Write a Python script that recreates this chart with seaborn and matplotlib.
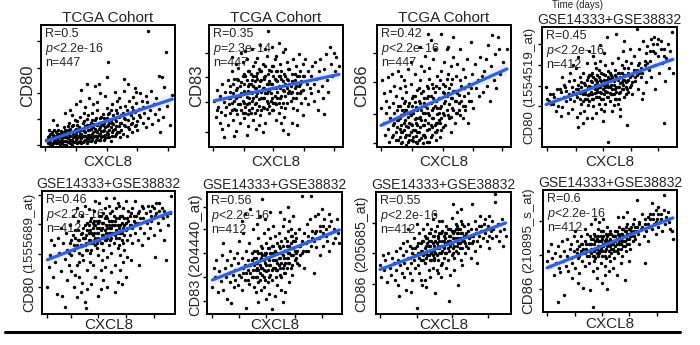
import matplotlib
matplotlib.use("Agg")
import matplotlib.pyplot as plt
import pandas as pd
import seaborn as sns
from matplotlib.lines import Line2D

# ---------------- data (0-100 = axis box) ----------------
titles = ["TCGA Cohort", "TCGA Cohort", "TCGA Cohort", "GSE14333+GSE38832",
          "GSE14333+GSE38832", "GSE14333+GSE38832", "GSE14333+GSE38832", "GSE14333+GSE38832"]
genes = ["CD80", "CD83", "CD86", "CD80", "CD80", "CD83", "CD86", "CD86"]
probes = ["", "", "", "(1554519_at)", "(1555689_at)", "(204440_at)", "(205685_at)", "(210895_s_at)"]
r_vals = ["0.5", "0.35", "0.42", "0.45", "0.46", "0.56", "0.55", "0.6"]
p_vals = ["<2.2e-16", "=2.3e-14", "<2.2e-16", "<2.2e-16", "<2.2e-16", "<2.2e-16", "<2.2e-16", "<2.2e-16"]
n_vals = [447, 447, 447, 412, 412, 412, 412, 412]
x_label = "CXCL8"

p1 = [(4,6),(5,3),(6,9),(7,4),(8,12),(8,2),(9,7),(10,5),(10,14),(11,3),(11,9),(12,6),(12,18),(13,4),(13,11),(14,8),(14,2),(15,13),(15,5),(6,14),(9,22),
      (16,7),(16,3),(17,10),(17,16),(18,5),(18,12),(19,2),(19,8),(20,14),(20,4),(21,10),(21,20),(22,6),(22,3),(23,12),(23,17),(24,8),(24,4),(25,14),(25,22),(26,6),(26,10),(27,3),(27,18),(28,9),(28,13),(29,5),(29,25),(30,11),(30,7),(18,28),(22,30),(26,35),(29,38),(23,26),
      (31,4),(31,15),(32,9),(32,21),(33,6),(33,12),(34,18),(34,3),(35,10),(35,26),(36,7),(36,14),(37,20),(37,5),(38,11),(38,28),(39,8),(39,16),(40,4),(40,22),(41,13),(41,9),(42,18),(42,30),(43,6),(43,15),(44,11),(44,24),(45,8),(45,19),(33,33),(36,40),(39,35),(42,37),(44,44),(30,47),(34,52),(40,50),(43,52),(32,28),
      (46,13),(46,27),(47,6),(47,20),(48,16),(48,10),(49,24),(49,32),(50,8),(50,18),(51,14),(51,28),(52,22),(52,5),(53,12),(53,35),(54,19),(54,26),(55,9),(55,15),(56,30),(56,21),(57,12),(57,38),(58,17),(58,25),(59,8),(59,33),(60,20),(60,14),(49,57),(50,70),(48,42),(55,45),(58,40),
      (61,28),(61,11),(62,24),(62,56),(63,17),(63,34),(64,30),(64,9),(65,22),(65,52),(66,15),(66,38),(67,26),(67,19),(68,33),(68,12),(69,41),(69,24),(70,29),(70,17),(71,36),(71,45),(72,21),(72,14),(73,31),(74,44),(74,25),(75,38),(62,46),(70,48),
      (76,20),(76,33),(77,28),(78,16),(78,42),(79,37),(80,95),(80,24),(81,30),(82,46),(83,19),(84,35),(85,27),(86,40),(87,22),(88,58),(88,31),(90,57),(91,25),(92,49),(93,78),(94,34),(96,18),(98,43),(89,12)]
p1_core = [(5,8),(6,5),(7,11),(7,2),(8,7),(9,3),(9,10),(10,8),(11,12),(11,6),(12,3),(12,10),(13,7),(13,14),(14,5),(14,11),(15,3),(15,9),(16,12),(16,5),(17,8),(17,2),(18,14),(18,9),(19,5),(19,11),(20,7),(20,17),(21,4),(21,13),(22,9),(22,15),(23,6),(23,2),(24,11),(24,18),(25,8),(25,4),(26,15),(26,12),(27,7),(27,21),(28,4),(28,16),(29,11),(29,8),(30,14),(30,3),(31,9),(31,20),(32,5),(32,13),(33,17),(33,9),(34,7),(34,23),(35,14),(35,5),(36,18),(36,10),(37,8),(37,15),(38,22),(38,6),(39,12),(39,19),(40,9),(40,15),(41,6),(41,24),(42,12),(42,8),(43,20),(43,10),(44,16),(44,6),(45,13),(45,25),(46,9),(46,18),(47,14),(47,24),(48,7),(48,21),(49,12),(49,17),(50,27),(50,11),(51,20),(51,8),(52,16),(52,30),(53,9),(53,20),(54,14),(55,23),(56,11),(56,17),(57,28),(58,12),(59,20),(60,26),(62,18),(63,23),(65,16),(66,28),(68,20),(69,30),(71,18),(73,26)]

p2 = [(4,38),(5,25),(6,47),(7,33),(8,20),(8,42),(9,29),(10,52),(10,15),(11,37),(12,26),(12,45),(13,33),(14,18),(14,55),(15,40),(6,30),(11,8),
      (16,28),(16,50),(17,36),(17,62),(18,22),(18,44),(19,31),(19,56),(20,40),(20,13),(21,48),(21,27),(22,35),(22,65),(23,42),(23,20),(24,53),(24,30),(25,38),(25,70),(26,46),(26,24),(27,58),(27,33),(28,41),(28,10),(29,50),(29,27),(30,62),(30,36),(17,74),(20,68),(24,77),(27,79),(29,17),(19,9),(22,55),(26,60),(28,72),(16,40),
      (31,45),(31,28),(32,55),(32,38),(33,66),(33,22),(34,48),(34,35),(35,58),(35,42),(36,30),(36,73),(37,50),(37,39),(38,62),(38,26),(39,45),(39,55),(40,33),(40,68),(41,48),(41,40),(42,58),(42,20),(43,44),(43,75),(44,52),(44,36),(45,63),(45,28),(32,80),(35,15),(38,84),(40,12),(42,80),(44,95),(33,50),(36,61),(39,40),(41,57),(43,31),(45,47),(37,18),(34,70),(30,52),
      (46,52),(46,38),(47,66),(47,30),(48,48),(48,58),(49,42),(49,72),(50,35),(50,55),(51,62),(51,45),(52,28),(52,50),(53,68),(53,40),(54,56),(54,33),(55,47),(55,78),(56,60),(56,25),(57,52),(57,42),(58,70),(58,36),(59,55),(59,11),(60,46),(60,64),(47,82),(50,22),(52,85),(55,14),(57,80),(54,20),(48,36),(53,58),(58,48),(50,75),
      (61,50),(61,38),(62,60),(62,45),(63,72),(63,32),(64,55),(64,48),(65,40),(65,66),(66,58),(66,30),(67,50),(67,76),(68,44),(68,62),(69,36),(69,54),(70,68),(70,47),(71,58),(72,40),(72,72),(73,52),(74,62),(74,35),(75,48),(62,20),(66,18),(70,26),
      (76,58),(76,44),(77,66),(78,52),(78,38),(79,70),(80,56),(81,46),(82,62),(83,72),(84,50),(85,40),(86,64),(87,76),(88,55),(89,45),(90,82),(91,68),(92,58),(93,77),(94,62),(95,74),(97,66),(86,27),(81,30)]
p2_core = [(15,35),(16,45),(17,30),(18,52),(19,38),(20,47),(20,30),(21,56),(22,42),(23,35),(23,50),(24,44),(25,28),(25,58),(26,36),(26,52),(27,44),(27,28),(28,55),(28,35),(29,46),(29,62),(30,40),(30,30),(31,52),(31,60),(32,44),(32,32),(33,58),(33,40),(34,28),(34,54),(35,48),(35,36),(36,56),(36,44),(37,34),(37,64),(38,46),(38,54),(39,30),(39,62),(40,48),(40,40),(41,56),(41,32),(42,44),(42,66),(43,52),(43,38),(44,60),(44,46),(45,34),(45,54),(46,44),(46,62),(47,40),(47,52),(48,30),(48,66),(49,56),(49,36),(50,48),(50,62),(51,40),(51,54),(52,58),(52,36),(53,48),(54,42),(54,62),(55,54),(55,36),(56,46),(57,58),(57,32),(58,56),(59,44),(59,64),(60,52),(61,44),(62,54),(63,40),(64,60),(65,50),(66,44),(67,58),(68,52),(69,46),(70,58)]

p3 = [(3,32),(4,55),(5,20),(5,44),(6,10),(7,38),(7,28),(8,57),(8,15),(9,33),(9,4),(10,46),(10,24),(11,60),(11,8),(12,36),(12,18),(13,50),(13,28),(14,12),(14,42),(15,22),
      (16,6),(16,34),(17,15),(17,48),(18,26),(18,3),(19,40),(19,12),(20,20),(20,55),(21,8),(21,30),(22,17),(22,45),(23,4),(23,25),(24,36),(24,10),(25,52),(25,19),(26,28),(26,6),(27,42),(27,14),(28,23),(28,60),(29,33),(29,9),(30,18),(30,47),(16,62),(18,58),(20,36),(22,2),(23,64),(24,28),(25,70),(26,40),(27,5),(28,37),(29,24),(30,3),(17,24),(21,50),(19,30),
      (31,12),(31,38),(32,25),(32,55),(33,7),(33,30),(34,46),(34,18),(35,62),(35,10),(36,34),(36,22),(37,50),(37,4),(38,28),(38,42),(39,15),(39,65),(40,36),(40,8),(41,52),(41,24),(42,32),(42,72),(43,18),(43,45),(44,38),(44,12),(45,58),(45,27),(32,82),(36,75),(38,93),(40,88),(43,80),(44,6),(31,48),(34,3),(37,40),(39,56),(41,16),(42,48),(45,20),(33,66),(35,36),
      (46,40),(46,22),(47,55),(47,32),(48,14),(48,62),(49,45),(49,28),(50,70),(50,36),(51,18),(51,50),(52,42),(52,80),(53,26),(53,60),(54,35),(54,48),(55,66),(55,12),(56,40),(56,56),(57,30),(57,74),(58,46),(58,20),(59,58),(59,38),(60,68),(60,28),(48,93),(53,82),(57,90),(47,8),(55,25),
      (61,43),(61,30),(62,80),(62,55),(63,38),(64,64),(64,24),(65,48),(66,57),(66,34),(67,72),(68,44),(68,20),(69,52),(70,86),(70,38),(71,60),(72,32),(73,68),(74,48),(75,55),(76,42),(77,74),(78,58),(79,45),
      (80,62),(81,72),(82,50),(83,84),(84,38),(85,66),(86,92),(87,55),(88,76),(89,48),(90,90),(91,80),(92,60),(94,70),(97,80)]
p3_core = [(12,10),(13,20),(14,6),(15,16),(15,30),(16,22),(17,8),(17,34),(18,18),(18,12),(19,26),(19,4),(20,14),(20,28),(21,22),(21,38),(22,10),(22,30),(23,16),(23,34),(24,20),(24,6),(25,26),(25,12),(26,34),(26,18),(27,8),(27,28),(28,14),(28,42),(29,20),(29,4),(30,30),(30,12),(31,24),(31,6),(32,16),(32,36),(33,22),(33,44),(34,10),(34,28),(35,18),(35,40),(36,28),(36,8),(37,14),(37,32),(38,20),(38,48),(39,26),(39,4),(40,18),(40,42),(41,30),(41,10),(42,24),(42,40),(43,12),(43,34),(44,20),(44,50),(45,32),(45,14),(46,28),(46,48),(47,20),(47,40),(48,34),(48,24),(49,52),(49,16),(50,44),(50,26),(51,38),(52,30),(52,56),(53,44),(54,24),(55,40),(55,52),(56,32),(57,46),(58,38),(59,28),(60,44),(61,36),(62,26),(63,50),(64,34),(65,42),(66,30),(68,50),(69,38),(70,48)]

p4 = [(3,50),(4,40),(5,38),(6,44),(7,36),(8,44),(9,42),(10,30),(11,48),(12,40),(13,48),(14,26),(14,46),(15,33),(16,52),(16,42),(17,50),(18,38),(18,47),(19,28),(20,55),(20,44),(12,34),(8,36),(15,58),
      (21,40),(21,62),(22,50),(22,32),(23,46),(24,56),(24,38),(25,48),(25,66),(26,42),(26,25),(27,52),(27,17),(28,45),(28,58),(29,36),(29,50),(30,44),(30,62),(31,30),(31,53),(32,47),(32,40),(33,56),(33,70),(34,43),(34,35),(35,51),(35,60),(23,68),(27,75),(30,20),(33,24),(35,80),(28,28),
      (36,46),(36,55),(37,40),(37,62),(38,50),(38,34),(39,57),(39,45),(40,52),(40,66),(41,42),(41,48),(42,58),(42,36),(43,50),(43,72),(44,45),(44,55),(45,40),(45,61),(46,52),(46,30),(47,47),(47,68),(48,56),(48,42),(49,50),(49,63),(50,45),(50,38),(37,24),(40,28),(43,85),(45,22),(48,92),(49,4),(38,76),(42,64),(44,32),(46,78),(47,36),(50,57),(39,70),(41,54),(36,44),
      (51,52),(51,60),(52,44),(52,70),(53,55),(53,35),(54,48),(54,64),(55,58),(55,40),(56,50),(56,74),(57,45),(57,62),(58,53),(58,32),(59,68),(59,48),(60,56),(60,80),(61,42),(61,60),(62,50),(62,72),(63,18),(63,55),(64,66),(64,46),(65,58),(65,82),(52,30),(55,94),(58,26),(61,88),(56,36),
      (66,52),(66,70),(67,60),(67,44),(68,76),(69,55),(70,64),(70,98),(71,48),(72,70),(72,82),(73,58),(74,62),(74,40),(75,88),(76,68),(77,54),(77,78),(78,84),(79,64),(80,72),(75,45),
      (81,90),(81,58),(82,80),(83,92),(84,68),(84,48),(85,86),(86,76),(87,62),(88,88),(89,70),(90,20),(90,82),(91,55),(92,74),(93,86),(94,66),(95,80),(96,96),(97,62)]
p4_core = [(25,44),(27,48),(28,40),(29,54),(30,38),(31,46),(32,52),(32,44),(33,40),(34,50),(34,58),(35,44),(35,38),(36,50),(36,60),(37,44),(37,54),(38,40),(38,58),(39,48),(39,52),(40,42),(40,56),(41,46),(41,60),(42,50),(42,42),(43,56),(43,46),(44,40),(44,62),(45,52),(45,48),(46,56),(46,44),(47,50),(47,60),(48,46),(48,52),(49,58),(49,42),(50,50),(50,62),(51,44),(51,56),(52,48),(52,58),(53,52),(53,44),(54,60),(54,40),(55,50),(55,46),(56,56),(56,62),(57,50),(57,40),(58,58),(58,46),(59,54),(59,62),(60,48),(60,52),(61,56),(61,66),(62,54),(62,44),(63,60),(63,48),(64,56),(64,62),(65,50),(66,60),(67,54),(68,64),(69,58),(70,60),(71,68),(72,62),(73,66),(76,72),(78,70),(80,80),(82,86),(84,78),(86,90),(88,82),(90,76)]

p5 = [(4,22),(5,38),(6,48),(8,30),(9,56),(10,42),(11,16),(12,62),(13,50),(14,35),(15,15),(16,58),(17,6),(17,45),(18,66),(19,28),(19,52),(20,40),(7,60),(14,70),
      (21,58),(21,72),(22,48),(22,35),(23,64),(24,22),(24,56),(25,68),(26,40),(26,14),(27,60),(27,76),(28,50),(28,30),(29,65),(29,18),(30,55),(30,80),(31,44),(31,70),(32,62),(32,10),(33,5),(33,52),(34,74),(34,36),(35,60),(35,85),(23,80),(26,86),(30,25),(32,88),(25,32),(28,42),(34,20),
      (36,68),(36,50),(37,78),(37,58),(38,64),(38,40),(39,72),(39,84),(40,56),(40,30),(41,66),(41,76),(42,62),(42,48),(43,70),(43,90),(44,58),(44,20),(45,74),(45,64),(46,52),(46,82),(47,68),(47,38),(48,72),(48,60),(49,78),(49,46),(50,66),(50,88),(37,24),(40,92),(42,15),(44,36),(46,28),(48,94),(49,22),(36,42),(39,60),(41,54),(43,80),(45,44),(47,86),(50,56),(38,74),
      (51,70),(51,60),(52,76),(52,50),(53,66),(53,84),(54,58),(54,72),(55,64),(55,40),(56,78),(56,68),(57,54),(57,90),(58,70),(58,62),(59,80),(59,48),(60,66),(60,74),(61,58),(61,86),(62,72),(62,52),(63,68),(63,30),(64,78),(64,60),(65,84),(65,70),(52,34),(55,18),(57,26),(59,36),(61,42),(63,92),(54,94),(58,88),(60,24),(64,46),
      (66,64),(66,80),(67,72),(68,58),(68,86),(69,76),(70,66),(70,92),(71,80),(72,60),(72,74),(73,84),(74,70),(75,88),(75,56),(76,78),(77,66),(78,82),(79,74),(80,62),(67,44),(73,40),
      (81,84),(81,70),(82,76),(83,88),(84,64),(85,80),(85,46),(86,90),(87,74),(88,84),(89,68),(90,86),(91,78),(92,84),(93,44),(94,80),(95,72),(96,82),(97,96),(92,60)]
p5_core = [(20,50),(22,60),(24,52),(25,62),(26,56),(27,68),(28,60),(29,56),(30,66),(30,48),(31,62),(32,56),(32,72),(33,64),(33,58),(34,68),(34,52),(35,72),(35,66),(36,60),(36,76),(37,66),(37,52),(38,70),(38,58),(39,66),(39,76),(40,62),(40,72),(41,58),(41,70),(42,74),(42,66),(43,60),(43,76),(44,68),(44,80),(45,70),(45,58),(46,74),(46,64),(47,78),(47,60),(48,66),(48,80),(49,70),(49,62),(50,76),(50,72),(51,66),(51,82),(52,70),(52,62),(53,76),(53,72),(54,66),(54,80),(55,72),(55,76),(56,62),(56,86),(57,72),(57,66),(58,78),(58,56),(59,72),(59,66),(60,80),(60,60),(61,70),(62,78),(62,64),(63,74),(64,70),(65,76),(66,72),(67,82),(68,70),(69,80),(70,74),(72,82),(74,78),(76,86),(78,76),(80,88),(82,80),(84,86),(86,82),(88,90),(90,80)]

p6 = [(4,22),(5,38),(6,30),(7,44),(8,18),(9,35),(10,27),(11,48),(12,20),(13,38),(14,30),(15,44),(15,12),(16,34),(17,26),(17,52),(18,9),(18,40),(19,32),(20,46),(20,22),(12,58),
      (21,36),(21,28),(22,50),(23,24),(23,42),(24,32),(24,60),(25,38),(26,20),(26,46),(27,34),(27,66),(28,40),(28,28),(29,5),(29,52),(30,36),(30,44),(31,25),(31,58),(32,40),(33,30),(33,50),(34,70),(34,36),(35,46),(35,22),(28,82),(32,86),(26,76),
      (36,42),(36,30),(37,52),(37,38),(38,26),(38,62),(39,44),(39,34),(40,56),(40,20),(41,48),(41,38),(42,66),(42,30),(43,50),(43,42),(44,35),(44,58),(45,46),(45,26),(46,54),(46,40),(47,62),(47,32),(48,48),(48,4),(49,56),(49,38),(50,44),(50,15),(37,74),(39,80),(41,94),(43,78),(45,70),(47,84),(49,72),(36,18),(38,10),(42,22),(44,12),(46,16),(48,28),(50,64),(40,50),
      (51,50),(51,36),(52,58),(52,42),(53,46),(53,66),(54,38),(54,54),(55,60),(55,30),(56,48),(56,72),(57,52),(57,40),(58,62),(58,34),(59,56),(59,46),(60,68),(60,42),(61,50),(61,76),(62,58),(62,38),(63,64),(63,48),(64,54),(64,80),(65,60),(65,44),(52,24),(55,20),(58,18),(61,26),(63,32),(54,84),(57,78),(60,88),(62,70),(56,10),
      (66,50),(66,62),(67,42),(68,56),(68,70),(69,48),(70,97),(70,60),(71,52),(72,66),(72,38),(73,58),(74,74),(75,52),(75,64),(76,78),(77,97),(77,56),(78,68),(79,60),(80,80),(79,34),
      (81,68),(81,55),(82,82),(83,62),(84,72),(84,48),(85,86),(86,66),(86,56),(87,78),(88,70),(89,60),(90,82),(90,52),(91,66),(92,76),(93,58),(94,70),(95,62),(96,78),(97,66),(98,58)]
p6_core = [(25,30),(27,38),(29,34),(30,28),(31,40),(32,34),(33,44),(34,30),(35,40),(35,52),(36,36),(36,46),(37,30),(37,42),(38,50),(38,36),(39,40),(39,28),(40,46),(40,38),(41,32),(41,54),(42,44),(42,36),(43,48),(43,28),(44,40),(44,50),(45,36),(45,54),(46,44),(46,30),(47,50),(47,40),(48,36),(48,56),(49,44),(49,50),(50,38),(50,52),(51,44),(51,30),(52,50),(52,36),(53,40),(53,56),(54,46),(54,32),(55,50),(55,42),(56,38),(56,56),(57,46),(57,34),(58,52),(58,42),(59,38),(59,60),(60,50),(60,46),(61,42),(61,56),(62,48),(62,64),(63,54),(63,40),(64,48),(64,60),(65,52),(65,66),(66,46),(67,52),(68,40),(69,56),(70,50),(71,58),(73,52),(75,60),(78,62),(80,66),(82,62),(84,68),(86,72),(88,64),(90,72)]

p7 = [(3,40),(4,30),(5,48),(6,36),(7,44),(8,26),(9,50),(10,38),(11,32),(12,46),(13,42),(14,28),(15,52),(15,36),(16,24),(16,44),(17,15),(18,40),(18,54),(19,34),(20,48),(20,58),
      (21,42),(21,30),(22,52),(23,38),(23,60),(24,46),(25,34),(25,56),(26,42),(27,50),(27,28),(28,62),(28,44),(29,38),(29,54),(30,5),(30,48),(31,58),(31,40),(32,66),(32,34),(33,52),(33,44),(34,60),(34,24),(35,48),(35,70),(22,20),(26,18),(24,70),(30,74),(33,28),
      (36,54),(36,42),(37,62),(37,22),(38,48),(38,58),(39,36),(39,66),(40,52),(40,44),(41,60),(41,70),(42,48),(42,38),(43,56),(43,64),(44,17),(44,50),(45,58),(45,72),(46,44),(46,62),(47,54),(47,66),(48,50),(48,40),(49,60),(49,76),(50,54),(50,46),(36,28),(40,30),(42,78),(44,82),(46,34),(48,30),(38,74),(41,52),(43,44),(45,36),(47,76),(49,42),(50,64),(37,50),(39,56),
      (51,58),(51,66),(52,50),(52,72),(53,60),(53,44),(54,11),(54,64),(55,56),(55,70),(56,48),(56,79),(57,62),(57,54),(58,68),(58,46),(59,60),(59,74),(60,56),(60,66),(61,50),(61,70),(62,62),(62,58),(63,76),(63,44),(64,66),(64,54),(65,72),(65,60),(52,38),(55,32),(58,36),(61,24),(64,40),(60,84),(57,90),(63,86),
      (66,58),(66,50),(67,66),(68,54),(68,74),(69,62),(70,46),(70,70),(71,90),(71,58),(72,64),(73,52),(73,76),(74,66),(75,60),(76,72),(77,56),(77,80),(78,68),(79,62),(80,74),(75,42),
      (81,66),(81,78),(82,60),(83,72),(84,80),(84,54),(85,68),(86,76),(86,62),(87,70),(88,98),(88,92),(89,64),(90,74),(91,60),(92,68),(93,78),(94,56),(95,70),(96,64)]
p7_core = [(25,46),(27,54),(28,48),(30,56),(31,50),(32,46),(33,58),(34,52),(35,44),(35,60),(36,50),(36,64),(37,56),(37,46),(38,62),(38,52),(39,48),(39,60),(40,56),(40,66),(41,50),(41,44),(42,58),(42,64),(43,52),(43,46),(44,60),(44,68),(45,54),(45,48),(46,64),(46,56),(47,50),(47,60),(48,66),(48,56),(49,52),(49,68),(50,60),(50,56),(51,50),(51,62),(52,66),(52,58),(53,54),(53,70),(54,60),(54,52),(55,64),(55,60),(56,58),(56,68),(57,50),(57,66),(58,62),(58,56),(59,70),(59,52),(60,62),(60,72),(61,58),(61,66),(62,54),(62,70),(63,62),(63,66),(64,60),(64,74),(65,64),(66,64),(67,56),(68,68),(69,58),(70,64),(72,60),(74,70),(76,64),(78,72),(80,68),(82,70),(84,64),(86,70)]

p8 = [(3,42),(4,50),(5,38),(6,56),(7,44),(8,30),(9,48),(10,40),(11,8),(11,54),(12,36),(13,46),(13,33),(14,58),(15,42),(16,14),(16,50),(17,38),(18,60),(18,46),(19,34),(20,52),
      (21,44),(21,56),(22,40),(23,50),(23,62),(24,36),(25,48),(25,58),(26,44),(27,54),(27,32),(28,50),(28,62),(29,42),(29,56),(30,48),(30,20),(31,58),(31,38),(32,52),(33,46),(33,64),(34,40),(34,56),(35,18),(35,50),(22,28),(26,24),(31,68),(24,66),
      (36,52),(36,60),(37,4),(37,46),(38,56),(38,64),(39,44),(39,52),(40,60),(40,36),(41,54),(41,68),(42,48),(42,58),(43,40),(43,62),(44,54),(44,46),(45,66),(45,56),(46,50),(46,30),(47,60),(47,44),(48,19),(48,54),(49,64),(49,50),(50,58),(50,42),(36,72),(39,76),(42,74),(45,76),(48,70),(37,34),(40,28),(44,24),(46,38),(49,34),(38,42),(41,46),(43,52),(47,56),(50,66),
      (51,56),(51,48),(52,62),(52,52),(53,58),(53,44),(54,66),(54,54),(55,50),(55,60),(56,48),(56,64),(57,56),(57,70),(58,52),(58,60),(59,64),(59,46),(60,58),(60,68),(61,54),(61,62),(62,66),(62,50),(63,60),(63,72),(64,56),(64,64),(65,68),(65,52),(52,36),(55,30),(58,40),(61,26),(64,42),(56,78),(60,78),(63,82),
      (66,62),(66,70),(67,58),(68,66),(68,76),(69,60),(70,92),(70,70),(71,64),(72,74),(72,56),(73,68),(74,80),(75,62),(76,72),(77,66),(78,78),(78,58),(79,70),(80,76),(81,89),(76,40),
      (81,68),(82,80),(83,72),(84,84),(84,64),(85,76),(86,70),(86,86),(87,74),(88,80),(89,66),(90,96),(90,84),(91,72),(92,78),(93,82),(94,74),(95,68),(96,66),(97,60)]
p8_core = [(25,52),(27,46),(28,56),(30,52),(31,48),(32,56),(33,50),(34,46),(35,56),(35,62),(36,48),(36,56),(37,52),(37,60),(38,50),(38,46),(39,58),(39,62),(40,52),(40,48),(41,58),(41,62),(42,54),(42,50),(43,58),(43,66),(44,50),(44,60),(45,54),(45,62),(46,58),(46,46),(47,52),(47,64),(48,58),(48,62),(49,56),(49,46),(50,60),(50,54),(51,52),(51,64),(52,58),(52,56),(53,62),(53,50),(54,58),(54,62),(55,56),(55,66),(56,52),(56,60),(57,62),(57,58),(58,64),(58,56),(59,58),(59,68),(60,62),(60,54),(61,66),(61,58),(62,62),(62,70),(63,56),(63,64),(64,68),(64,60),(65,62),(66,66),(67,72),(68,62),(69,70),(70,66),(72,72),(74,70),(76,76),(78,72),(80,80),(82,76),(84,74),(86,80),(88,76)]

panels = [p1 + p1_core, p2 + p2_core, p3 + p3_core, p4 + p4_core,
          p5 + p5_core, p6 + p6_core, p7 + p7_core, p8 + p8_core]

# ---------------- layout / style ----------------
sns.set_style("ticks")
plt.rcParams["font.family"] = ["Liberation Sans", "DejaVu Sans"]
plt.rcParams["mathtext.fontset"] = "custom"
plt.rcParams["mathtext.it"] = "Liberation Sans:italic"
plt.rcParams["mathtext.rm"] = "Liberation Sans"

W, H = 700, 345
fig = plt.figure(figsize=(W / 100, H / 100), dpi=100)

boxes = [(41, 25, 175, 147), (209, 25, 343, 147), (377, 25, 511, 147), (542, 27, 677, 147),
         (42, 191, 175, 314), (207, 192, 342, 314), (376, 192, 511, 314), (543, 190, 677, 312)]
title_fs = [11, 11, 11, 10, 10, 10, 10, 10]
xlab_gap = [8, 8, 8, 8, 4, 4, 4, 5]   # pixels between axis bottom and label box
xticks = [[3, 26, 49, 72, 95], [3, 26, 48, 71, 93], [3, 26, 49, 72, 93], [4, 25, 45, 66, 86],
          [4, 22, 42, 63, 84], [4, 24, 44, 65, 85], [3, 30, 56, 83], [3, 24, 44, 64, 85]]
yticks = [[2, 23, 44, 65, 87], [12, 37, 57, 77], [3, 27, 53, 77], [16, 34, 51, 68, 86],
          [22, 49, 73, 97], [11, 30, 50, 70, 88], [25, 50, 75], [19, 47, 75]]
ylab_off = [-13, -12, -15, -13, -13, -12, -15, -15]
ylab_bottom = [None, None, None, 0.025, 0.02, -0.02, 0.02, -0.02]
name_fs = [12, 12, 12, 9.5, 10.3, 10.5, 10.3, 10.8]
probe_fs = [0, 0, 0, 9.6, 9.6, 11, 10.2, 9.5]

for i, pts in enumerate(panels):
    l, t, r, b = boxes[i]
    ax = fig.add_axes([l / W, 1 - b / H, (r - l) / W, (b - t) / H])
    df = pd.DataFrame(pts, columns=[x_label, genes[i]])
    sns.regplot(data=df, x=x_label, y=genes[i], ax=ax, ci=95, truncate=True,
                scatter_kws=dict(s=6, color="black", linewidths=0, alpha=1),
                line_kws=dict(color="#2d62e4", lw=2.3))
    for coll in ax.collections[1:]:
        coll.set_facecolor((0.55, 0.55, 0.55, 0.35))
        coll.set_edgecolor("none")
    ax.set_xlim(0, 100)
    ax.set_ylim(0, 100)
    ax.set_xticks(xticks[i])
    ax.set_yticks(yticks[i])
    ax.set_xticklabels([])
    ax.set_yticklabels([])
    ax.tick_params(direction="out", length=3, width=1, colors="black")
    for s in ax.spines.values():
        s.set_linewidth(1.4)
        s.set_color("black")
    ax.set_title(titles[i], fontsize=title_fs[i], pad=2)
    ax.set_xlabel(x_label, fontsize=11)
    ax.xaxis.set_label_coords(0.5, -xlab_gap[i] / (b - t))
    ax.set_ylabel("")
    xo = ylab_off[i] / (r - l)
    if probes[i] == "":
        ax.text(xo, 0.5, genes[i], rotation=90, ha="center", va="center",
                fontsize=name_fs[i], transform=ax.transAxes)
    else:
        nt = ax.text(xo, ylab_bottom[i], genes[i], rotation=90, ha="center", va="bottom",
                     fontsize=name_fs[i], transform=ax.transAxes)
        ax.annotate(probes[i], xy=(0.5, 1.0), xycoords=nt, xytext=(0, 2),
                    textcoords="offset points", rotation=90, ha="center", va="bottom",
                    fontsize=probe_fs[i])
    ax.text(0.03, 0.975, f"R={r_vals[i]}\n$p${p_vals[i]}\nn={n_vals[i]}",
            transform=ax.transAxes, ha="left", va="top", fontsize=9, linespacing=1.05)

fig.add_artist(Line2D([5 / W, 680 / W], [1 - 332 / H, 1 - 332 / H], color="black", lw=2.2))
fig.text(577 / W, 1 - 0.5 / H, "Time (days)", ha="center", va="top", fontsize=7)

fig.savefig("out.png", dpi=100)
